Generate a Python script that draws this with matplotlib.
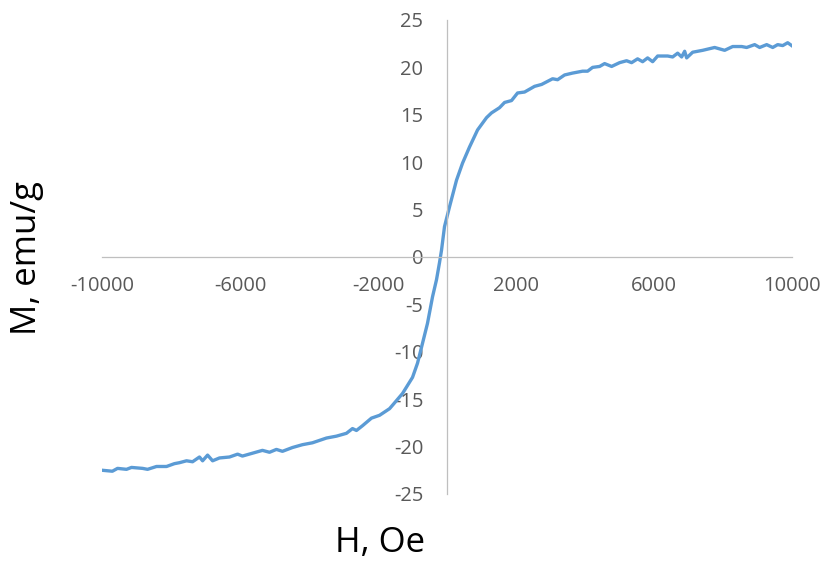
import matplotlib.pyplot as plt

# Field H (Oe) and magnetization M (emu/g)
H = [-9990, -9700, -9550, -9290, -9145, -8825, -8680, -8420, -8130, -7900,
     -7755, -7550, -7375, -7175, -7085, -6940, -6795, -6595, -6305, -6070,
     -5930, -5640, -5350, -5145, -4945, -4770, -4480, -4190, -3900, -3495,
     -3205, -2915, -2740, -2625, -2450, -2190, -1955, -1665, -1500, -1290,
     -1000, -855, -710, -566, -420, -305, -218, -160, -73, 73,
     275, 450, 652, 885, 1146, 1290, 1523, 1668, 1870, 2045,
     2248, 2538, 2741, 3060, 3205, 3408, 3640, 3930, 4075, 4220,
     4423, 4568, 4771, 5003, 5205, 5350, 5524, 5669, 5814, 5960,
     6105, 6395, 6540, 6685, 6800, 6888, 6946, 7120, 7410, 7757,
     8047, 8280, 8540, 8685, 8917, 9062, 9265, 9440, 9584, 9730,
     9874, 9990]
M = [-22.5, -22.6, -22.3, -22.4, -22.2, -22.3, -22.4, -22.1, -22.1, -21.8,
     -21.7, -21.5, -21.6, -21.1, -21.5, -20.9, -21.5, -21.2, -21.1, -20.8,
     -21.0, -20.7, -20.4, -20.6, -20.3, -20.5, -20.1, -19.8, -19.6, -19.1,
     -18.9, -18.6, -18.1, -18.3, -17.8, -17.0, -16.7, -16.0, -15.3, -14.4,
     -12.7, -11.2, -9.1, -7.0, -4.2, -2.4, -0.6, 0.7, 3.2, 5.3,
     8.1, 9.9, 11.6, 13.4, 14.7, 15.2, 15.75, 16.3, 16.5, 17.3,
     17.4, 18.0, 18.2, 18.8, 18.7, 19.2, 19.4, 19.6, 19.6, 20.0,
     20.1, 20.4, 20.1, 20.5, 20.7, 20.5, 20.9, 20.6, 21.0, 20.6,
     21.2, 21.2, 21.1, 21.5, 21.1, 21.7, 21.0, 21.6, 21.8, 22.1,
     21.8, 22.2, 22.2, 22.1, 22.4, 22.1, 22.4, 22.1, 22.4, 22.3,
     22.6, 22.3]

xticks = [-10000, -6000, -2000, 2000, 6000, 10000]
yticks = [-25, -20, -15, -10, -5, 0, 5, 10, 15, 20, 25]

plt.rcParams['font.family'] = ['Open Sans', 'DejaVu Sans']
plt.rcParams['axes.unicode_minus'] = False

fig = plt.figure(figsize=(8.24, 5.63), dpi=100)
ax = fig.add_axes([0.1238, 0.1226, 0.8374, 0.8419])

ax.plot(H, M, color='#5B9BD5', linewidth=2.4, solid_joinstyle='round')

ax.set_xlim(-10000, 10000)
ax.set_ylim(-25, 25)

# Excel style: axes cross at the origin
for s in ['top', 'right']:
    ax.spines[s].set_visible(False)
ax.spines['left'].set_position(('data', 0))
ax.spines['bottom'].set_position(('data', 0))
for s in ['left', 'bottom']:
    ax.spines[s].set_color('#BFBFBF')
    ax.spines[s].set_linewidth(0.9)

ax.set_xticks(xticks)
ax.set_yticks(yticks)
ax.tick_params(axis='both', length=0, labelsize=14.5, labelcolor='#595959')
ax.tick_params(axis='x', pad=14)
ax.tick_params(axis='y', pad=17)

fig.text(0.461, 0.035, 'H, Oe', fontsize=25, ha='center', va='center')
fig.text(0.033, 0.542, 'M, emu/g', fontsize=25, ha='center', va='center',
         rotation=90)

fig.savefig('out.png', dpi=100)
